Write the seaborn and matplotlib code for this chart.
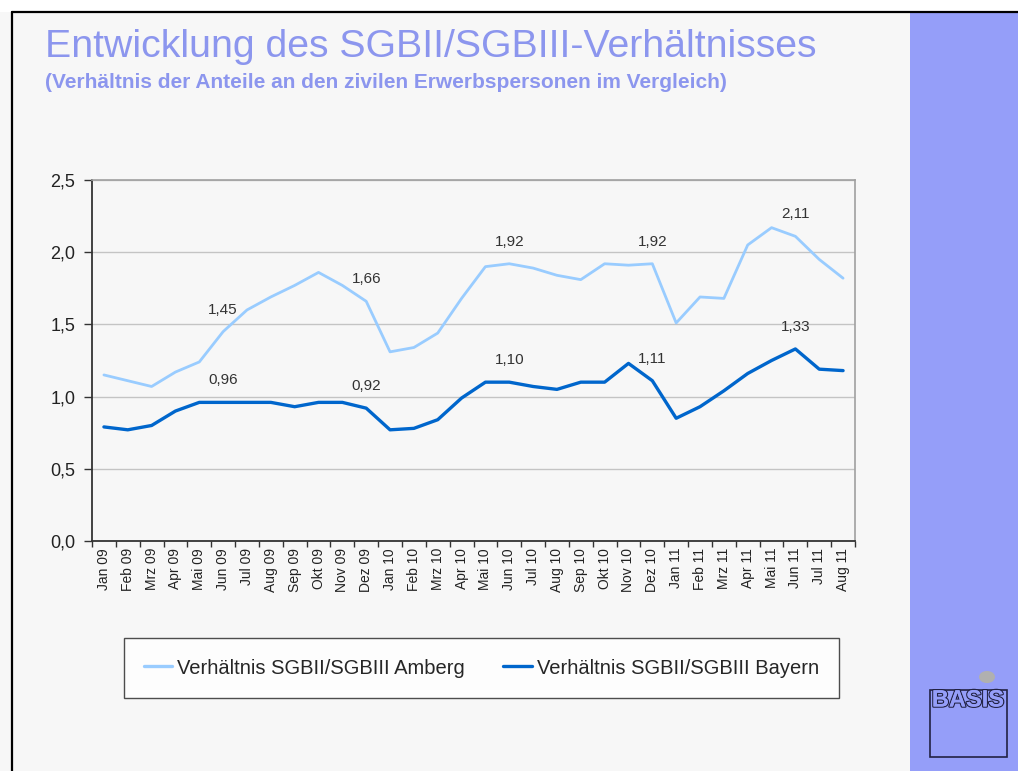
import numpy as np
import pandas as pd
import matplotlib
matplotlib.use("Agg")
import matplotlib.pyplot as plt
import matplotlib.patches as mpatches
import matplotlib.patheffects as pe
import seaborn as sns

months = ["Jan 09", "Feb 09", "Mrz 09", "Apr 09", "Mai 09", "Jun 09", "Jul 09", "Aug 09",
          "Sep 09", "Okt 09", "Nov 09", "Dez 09", "Jan 10", "Feb 10", "Mrz 10", "Apr 10",
          "Mai 10", "Jun 10", "Jul 10", "Aug 10", "Sep 10", "Okt 10", "Nov 10", "Dez 10",
          "Jan 11", "Feb 11", "Mrz 11", "Apr 11", "Mai 11", "Jun 11", "Jul 11", "Aug 11"]
amberg = [1.15, 1.11, 1.07, 1.17, 1.24, 1.45, 1.60, 1.69, 1.77, 1.86, 1.77, 1.66,
          1.31, 1.34, 1.44, 1.68, 1.90, 1.92, 1.89, 1.84, 1.81, 1.92, 1.91, 1.92,
          1.51, 1.69, 1.68, 2.05, 2.17, 2.11, 1.95, 1.82]
bayern = [0.79, 0.77, 0.80, 0.90, 0.96, 0.96, 0.96, 0.96, 0.93, 0.96, 0.96, 0.92,
          0.77, 0.78, 0.84, 0.99, 1.10, 1.10, 1.07, 1.05, 1.10, 1.10, 1.23, 1.11,
          0.85, 0.93, 1.04, 1.16, 1.25, 1.33, 1.19, 1.18]
label_months = ["Jun 09", "Dez 09", "Jun 10", "Dez 10", "Jun 11"]
series_names = ["Verhältnis SGBII/SGBIII Amberg", "Verhältnis SGBII/SGBIII Bayern"]
y_ticks = [0.0, 0.5, 1.0, 1.5, 2.0, 2.5]
title = "Entwicklung des SGBII/SGBIII-Verhältnisses"
subtitle = "(Verhältnis der Anteile an den zivilen Erwerbspersonen im Vergleich)"

c_amberg = "#99ccff"
c_bayern = "#0066cc"
bg = "#f7f7f7"
panel = "#959ef9"
title_c = "#8c96ee"

sns.set_theme(style="white")
plt.rcParams["font.family"] = ["Liberation Sans", "DejaVu Sans"]

df = pd.DataFrame({
    "idx": list(range(len(months))) * 2,
    "value": amberg + bayern,
    "series": [series_names[0]] * len(months) + [series_names[1]] * len(months),
})

fig = plt.figure(figsize=(10.18, 7.71), dpi=100, facecolor=bg)
W, H = 1018, 771
def fx(px): return px / W
def fy(py): return 1 - py / H

# white top strip, borders, right panel
fig.patches.append(mpatches.Rectangle((0, fy(12)), 1, 12 / H, transform=fig.transFigure,
                                      facecolor="white", edgecolor="none", zorder=0))
fig.patches.append(mpatches.Rectangle((fx(910), 0), 1 - fx(910), fy(12), transform=fig.transFigure,
                                      facecolor=panel, edgecolor="none", zorder=0))
fig.lines.append(plt.Line2D([fx(12), 1], [fy(12), fy(12)], transform=fig.transFigure,
                            color="black", lw=1.6))
fig.lines.append(plt.Line2D([fx(12), fx(12)], [0, fy(12)], transform=fig.transFigure,
                            color="black", lw=1.6))

ax = fig.add_axes([fx(92), fy(541), fx(855) - fx(92), (541 - 180) / H])
ax.set_facecolor(bg)

sns.lineplot(data=df, x="idx", y="value", hue="series",
             palette=[c_amberg, c_bayern], ax=ax, legend=False, sort=False)
for ln, lw in zip(ax.lines, [2.0, 2.4]):
    ln.set_linewidth(lw)
    ln.set_solid_joinstyle("round")
    ln.set_solid_capstyle("round")

ax.set_xlim(-0.5, len(months) - 0.5)
ax.set_ylim(0, 2.5)
ax.set_yticks(y_ticks)
ax.set_yticklabels([f"{v:.1f}".replace(".", ",") for v in y_ticks], fontsize=13, color="#222222")
ax.set_xticks(np.arange(len(months) + 1) - 0.5)
ax.set_xticklabels([])
ax.set_xticks(np.arange(len(months)), minor=True)
ax.set_xticklabels(months, minor=True, rotation=90, fontsize=10, color="#222222", va="top")
ax.tick_params(axis="x", which="major", length=4, width=1, color="#333333", direction="out", bottom=True)
ax.tick_params(axis="x", which="minor", length=0, pad=5)
ax.tick_params(axis="y", length=6, width=1, color="#333333", direction="out", left=True, pad=6)
ax.set_xlabel("")
ax.set_ylabel("")
ax.grid(axis="y", color="#c4c4c4", lw=1)
ax.set_axisbelow(True)
for s in ["left", "bottom"]:
    ax.spines[s].set_color("#333333")
    ax.spines[s].set_linewidth(1.3)
for s in ["top", "right"]:
    ax.spines[s].set_color("#a0a0a0")
    ax.spines[s].set_linewidth(1.2)

for m in label_months:
    i = months.index(m)
    for vals in (amberg, bayern):
        ax.annotate(f"{vals[i]:.2f}".replace(".", ","), (i, vals[i]), xytext=(0, 22),
                    textcoords="offset pixels", ha="center", va="center",
                    fontsize=11, color="#333333")

fig.text(fx(45), fy(47), title, fontsize=28.3, color=title_c, ha="left", va="center")
fig.text(fx(45), fy(83), subtitle, fontsize=15, color=title_c, ha="left", va="center",
         fontweight="bold")

handles = [plt.Line2D([], [], color=c_amberg, lw=2.4), plt.Line2D([], [], color=c_bayern, lw=2.4)]
leg = fig.legend(handles, series_names, loc="center", bbox_to_anchor=(fx(481.5), fy(668)),
                 ncol=2, frameon=True, fancybox=False, fontsize=14.5, handlelength=1.4,
                 handletextpad=0.25, columnspacing=1.9, borderpad=1.0)
leg.get_frame().set_edgecolor("#222222")
leg.get_frame().set_facecolor("white")
leg.get_frame().set_linewidth(1.0)

# BASIS logo
fig.patches.append(mpatches.Circle((fx(987), fy(677)), 8 / W, transform=fig.transFigure,
                                   facecolor="#b0b0b0", edgecolor="none"))
fig.patches.append(mpatches.Rectangle((fx(930), fy(757)), 77 / W, 67 / H, transform=fig.transFigure,
                                      facecolor="none", edgecolor="#222244", lw=1.2))
fig.text(fx(968), fy(700), "BASIS", fontsize=17, color=panel, ha="center", va="center",
         fontweight="bold", path_effects=[pe.withStroke(linewidth=1.8, foreground="#222244"),
                                          pe.Normal()])

fig.savefig("out.png", dpi=100, facecolor=fig.get_facecolor())
